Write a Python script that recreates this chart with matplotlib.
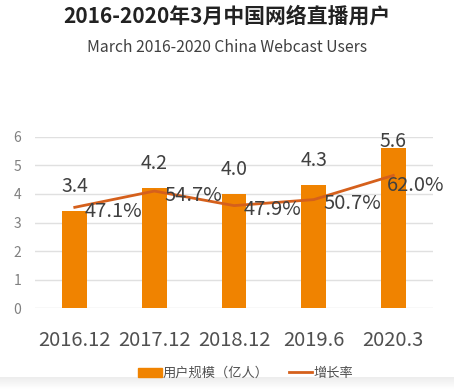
import matplotlib
matplotlib.use("Agg")
import numpy as np
import matplotlib.pyplot as plt
from matplotlib.patches import Patch
from matplotlib.lines import Line2D

plt.rcParams['font.family'] = ['Noto Sans CJK SC', 'DejaVu Sans']

categories = ["2016.12", "2017.12", "2018.12", "2019.6", "2020.3"]
users = [3.4, 4.2, 4.0, 4.3, 5.6]
growth = [47.1, 54.7, 47.9, 50.7, 62.0]
yticks = [0, 1, 2, 3, 4, 5, 6]

BAR = "#F08300"
LINE = "#D5601C"

fig = plt.figure(figsize=(4.54, 3.89), dpi=100)

# faint grey shading at the bottom edge
bg = fig.add_axes([0, 0, 1, 0.03], zorder=-10)
grad = np.linspace(1.0, 0.0, 20).reshape(-1, 1)
bg.imshow(grad, aspect='auto', cmap=matplotlib.colors.LinearSegmentedColormap.from_list(
    "g", ["#FFFFFF", "#EDEDED"]), extent=(0, 1, 0, 1), origin='upper')
bg.axis('off')

ax = fig.add_axes([0.077, 0.208, 0.877, 0.44])
x = list(range(len(categories)))
ax.bar(x, users, width=0.31, color=BAR, zorder=2)
ax.set_ylim(0, 6)
ax.set_xlim(-0.5, len(categories) - 0.5)
ax.set_yticks(yticks)
ax.set_yticklabels([str(t) for t in yticks], color="#808080", fontsize=10)
ax.grid(axis='y', color="#E0E0E0", linewidth=1, zorder=0)
ax.set_xticks(x)
ax.set_xticklabels(categories, fontsize=14.5, color="#505050")
ax.tick_params(axis='both', length=0)
ax.tick_params(axis='y', pad=10)
ax.tick_params(axis='x', pad=16)
for s in ax.spines.values():
    s.set_visible(False)

for xi, v in zip(x, users):
    yb = min(v + 0.5, 5.47)
    ax.text(xi, yb, f"{v:.1f}", ha='center', va='bottom', fontsize=14, color="#404040", zorder=5)

ax2 = ax.twinx()
ax2.set_ylim(0, 80)
ax2.plot(x, growth, color=LINE, linewidth=2, zorder=3)
ax2.axis('off')
pct_texts = []
for xi, g in zip(x, growth):
    t = ax2.annotate(f"{g:.1f}%", (xi, g), xytext=(7, -3), textcoords='offset points',
                     ha='left', va='center', fontsize=14.5, color="#404040", zorder=5)
    pct_texts.append(t)

fig.text(0.5, 0.958, "2016-2020年3月中国网络直播用户", ha='center', va='center',
         fontsize=15, fontweight='bold', color="#222222")
fig.text(0.5, 0.877, "March 2016-2020 China Webcast Users", ha='center', va='center',
         fontsize=11.3, color="#404040")

handles = [Patch(facecolor=BAR, edgecolor=BAR), Line2D([0], [0], color=LINE, linewidth=2)]
fig.legend(handles, ["用户规模（亿人）", "增长率"], loc='center', bbox_to_anchor=(0.541, 0.04),
           ncol=2, frameon=False, fontsize=9.5, labelcolor="#505050",
           handlelength=1.8, handleheight=0.75, handletextpad=0.1, columnspacing=1.5)

# keep percentage labels inside the figure
fig.canvas.draw()
r = fig.canvas.get_renderer()
W = fig.bbox.width
for t in pct_texts:
    bb = t.get_window_extent(r)
    if bb.x1 > W - 10:
        dx_pt = (bb.x1 - (W - 10)) * 72 / fig.dpi
        ox, oy = t.xyann
        t.xyann = (ox - dx_pt, oy - 4)

fig.savefig("out.png", dpi=100)
